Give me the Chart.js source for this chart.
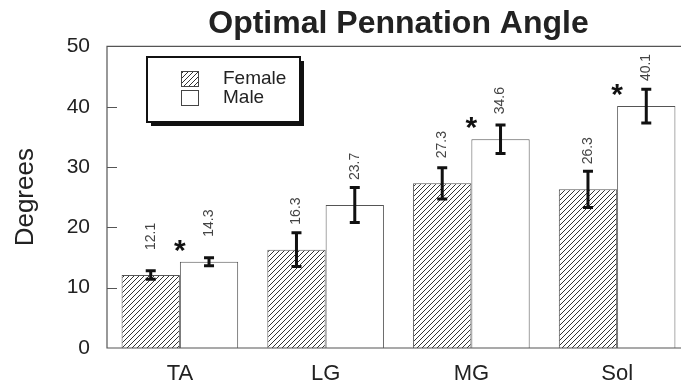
<!DOCTYPE html>
<html>
<head>
<meta charset="utf-8">
<title>Optimal Pennation Angle</title>
<script src="https://cdn.jsdelivr.net/npm/chart.js@4"></script>
<style>
  html, body { margin: 0; padding: 0; background: #fff; overflow: hidden; }
  #wrap { width: 740px; height: 387px; }
  canvas { display: block; width: 740px; height: 387px; }
</style>
</head>
<body>
<div id="wrap"><canvas id="angle_chart" width="740" height="387"></canvas></div>
<script>
const categories = ['TA', 'LG', 'MG', 'Sol']
const femaleMeans = [12.1, 16.3, 27.3, 26.3]
const maleMeans = [14.3, 23.7, 34.6, 40.1]
const femaleErr = [0.7, 2.8, 2.6, 3.0]
const maleErr = [0.65, 2.9, 2.35, 2.8]
// asterisk over the male bar where the difference is significant
const significant = [true, false, true, true]
const yMin = 0
const yMax = 50
const yStep = 10

const FONT = "'Liberation Sans', Arial, Helvetica, sans-serif"
const INK = '#222'

const angle_chart = document.querySelector('#angle_chart')
const ctx = angle_chart.getContext('2d')

// diagonal hatch for the female bars
function hatchPattern() {
    const tile = document.createElement('canvas')
    tile.width = 5
    tile.height = 5
    const t = tile.getContext('2d')
    t.fillStyle = '#fff'
    t.fillRect(0, 0, 5, 5)
    t.strokeStyle = '#333'
    t.lineWidth = 1
    t.beginPath()
    t.moveTo(0, 5); t.lineTo(5, 0)
    t.moveTo(-1, 1); t.lineTo(1, -1)
    t.moveTo(4, 6); t.lineTo(6, 4)
    t.stroke()
    return ctx.createPattern(tile, 'repeat')
}
const hatch = hatchPattern()

// frame, inward y ticks, error bars, value labels, asterisks, legend box
const decorations = {
    id: 'decorations',
    afterDatasetsDraw(chart) {
        const c = chart.ctx
        const area = chart.chartArea
        const y = chart.scales.y
        const errs = [femaleErr, maleErr]

        c.save()
        c.strokeStyle = '#555'
        c.lineWidth = 1.2
        c.beginPath()
        c.moveTo(area.right, area.top)
        c.lineTo(area.left, area.top)
        c.lineTo(area.left, area.bottom)
        c.lineTo(area.right, area.bottom)
        for (let v = yMin + yStep; v < yMax; v += yStep) {
            const py = Math.round(y.getPixelForValue(v)) + 0.5
            c.moveTo(area.left, py)
            c.lineTo(area.left + 10, py)
        }
        c.stroke()

        chart.data.datasets.forEach((ds, di) => {
            const meta = chart.getDatasetMeta(di)
            meta.data.forEach((bar, i) => {
                const v = ds.data[i]
                const top = y.getPixelForValue(v + errs[di][i])
                const bot = y.getPixelForValue(v - errs[di][i])
                c.strokeStyle = '#111'
                c.lineWidth = 3
                c.beginPath()
                c.moveTo(bar.x, top); c.lineTo(bar.x, bot)
                c.moveTo(bar.x - 5, top); c.lineTo(bar.x + 5, top)
                c.moveTo(bar.x - 5, bot); c.lineTo(bar.x + 5, bot)
                c.stroke()

                c.save()
                c.translate(bar.x, bar.y - 25)
                c.rotate(-Math.PI / 2)
                c.fillStyle = '#444'
                c.font = '14px ' + FONT
                c.textAlign = 'left'
                c.textBaseline = 'middle'
                c.fillText(v.toFixed(1), 0, 0)
                c.restore()
            })
        })

        const maleMeta = chart.getDatasetMeta(1)
        const femaleMeta = chart.getDatasetMeta(0)
        c.fillStyle = '#111'
        c.font = 'bold 30px ' + FONT
        c.textAlign = 'center'
        c.textBaseline = 'alphabetic'
        const m = c.measureText('*')
        const mid = (m.actualBoundingBoxAscent - m.actualBoundingBoxDescent) / 2
        significant.forEach((s, i) => {
            if (!s) return
            const f = femaleMeta.data[i]
            const mb = maleMeta.data[i]
            const cx = f.x + f.width / 2
            c.fillText('*', cx, mb.y - 16 + mid)
        })

        // legend box with drop shadow
        const lx = 147, ly = 57, lw = 153, lh = 65
        c.fillStyle = '#111'
        c.fillRect(lx + 4, ly + 4, lw, lh)
        c.fillStyle = '#fff'
        c.fillRect(lx, ly, lw, lh)
        c.strokeStyle = '#111'
        c.lineWidth = 2
        c.strokeRect(lx, ly, lw, lh)
        chart.data.datasets.forEach((ds, di) => {
            const sy = ly + 14 + di * 19
            c.fillStyle = ds.backgroundColor
            c.fillRect(lx + 34, sy, 18, 16)
            c.strokeStyle = '#444'
            c.lineWidth = 1
            c.strokeRect(lx + 34.5, sy + 0.5, 17, 15)
            c.fillStyle = INK
            c.font = '19px ' + FONT
            c.textAlign = 'left'
            c.textBaseline = 'middle'
            c.fillText(ds.label, lx + 76, sy + 8)
        })
        c.restore()
    }
}

new Chart(angle_chart, {
    type: 'bar',
    data: {
        labels: categories,
        datasets: [{
            label: 'Female',
            data: femaleMeans,
            backgroundColor: hatch,
            borderColor: '#555',
            borderWidth: 1
        }, {
            label: 'Male',
            data: maleMeans,
            backgroundColor: '#fff',
            borderColor: '#555',
            borderWidth: 1
        }]
    },
    options: {
        responsive: false,
        animation: false,
        devicePixelRatio: 1,
        layout: { padding: { left: 0, right: 50, top: 0, bottom: 0 } },
        datasets: {
            bar: { barPercentage: 1, categoryPercentage: 0.8 }
        },
        plugins: {
            legend: { display: false },
            tooltip: { enabled: false },
            title: {
                display: true,
                text: 'Optimal Pennation Angle',
                fullSize: false,
                color: INK,
                font: { family: FONT, size: 32, weight: 'bold' },
                padding: { top: 5, bottom: 3 }
            }
        },
        scales: {
            x: {
                afterFit(scale) { scale.height = 39 },
                grid: { display: false, drawTicks: false },
                border: { display: false },
                ticks: {
                    color: INK,
                    padding: 13,
                    font: { family: FONT, size: 22 }
                }
            },
            y: {
                min: yMin,
                max: yMax,
                afterFit(scale) { scale.width = 107 },
                grid: { display: false, drawTicks: false },
                border: { display: false },
                ticks: {
                    stepSize: yStep,
                    color: INK,
                    padding: 17,
                    font: { family: FONT, size: 21 }
                },
                title: {
                    display: true,
                    text: 'Degrees',
                    color: INK,
                    font: { family: FONT, size: 26 },
                    padding: { top: 10, bottom: 0 }
                }
            }
        }
    },
    plugins: [decorations]
})
</script>
</body>
</html>
